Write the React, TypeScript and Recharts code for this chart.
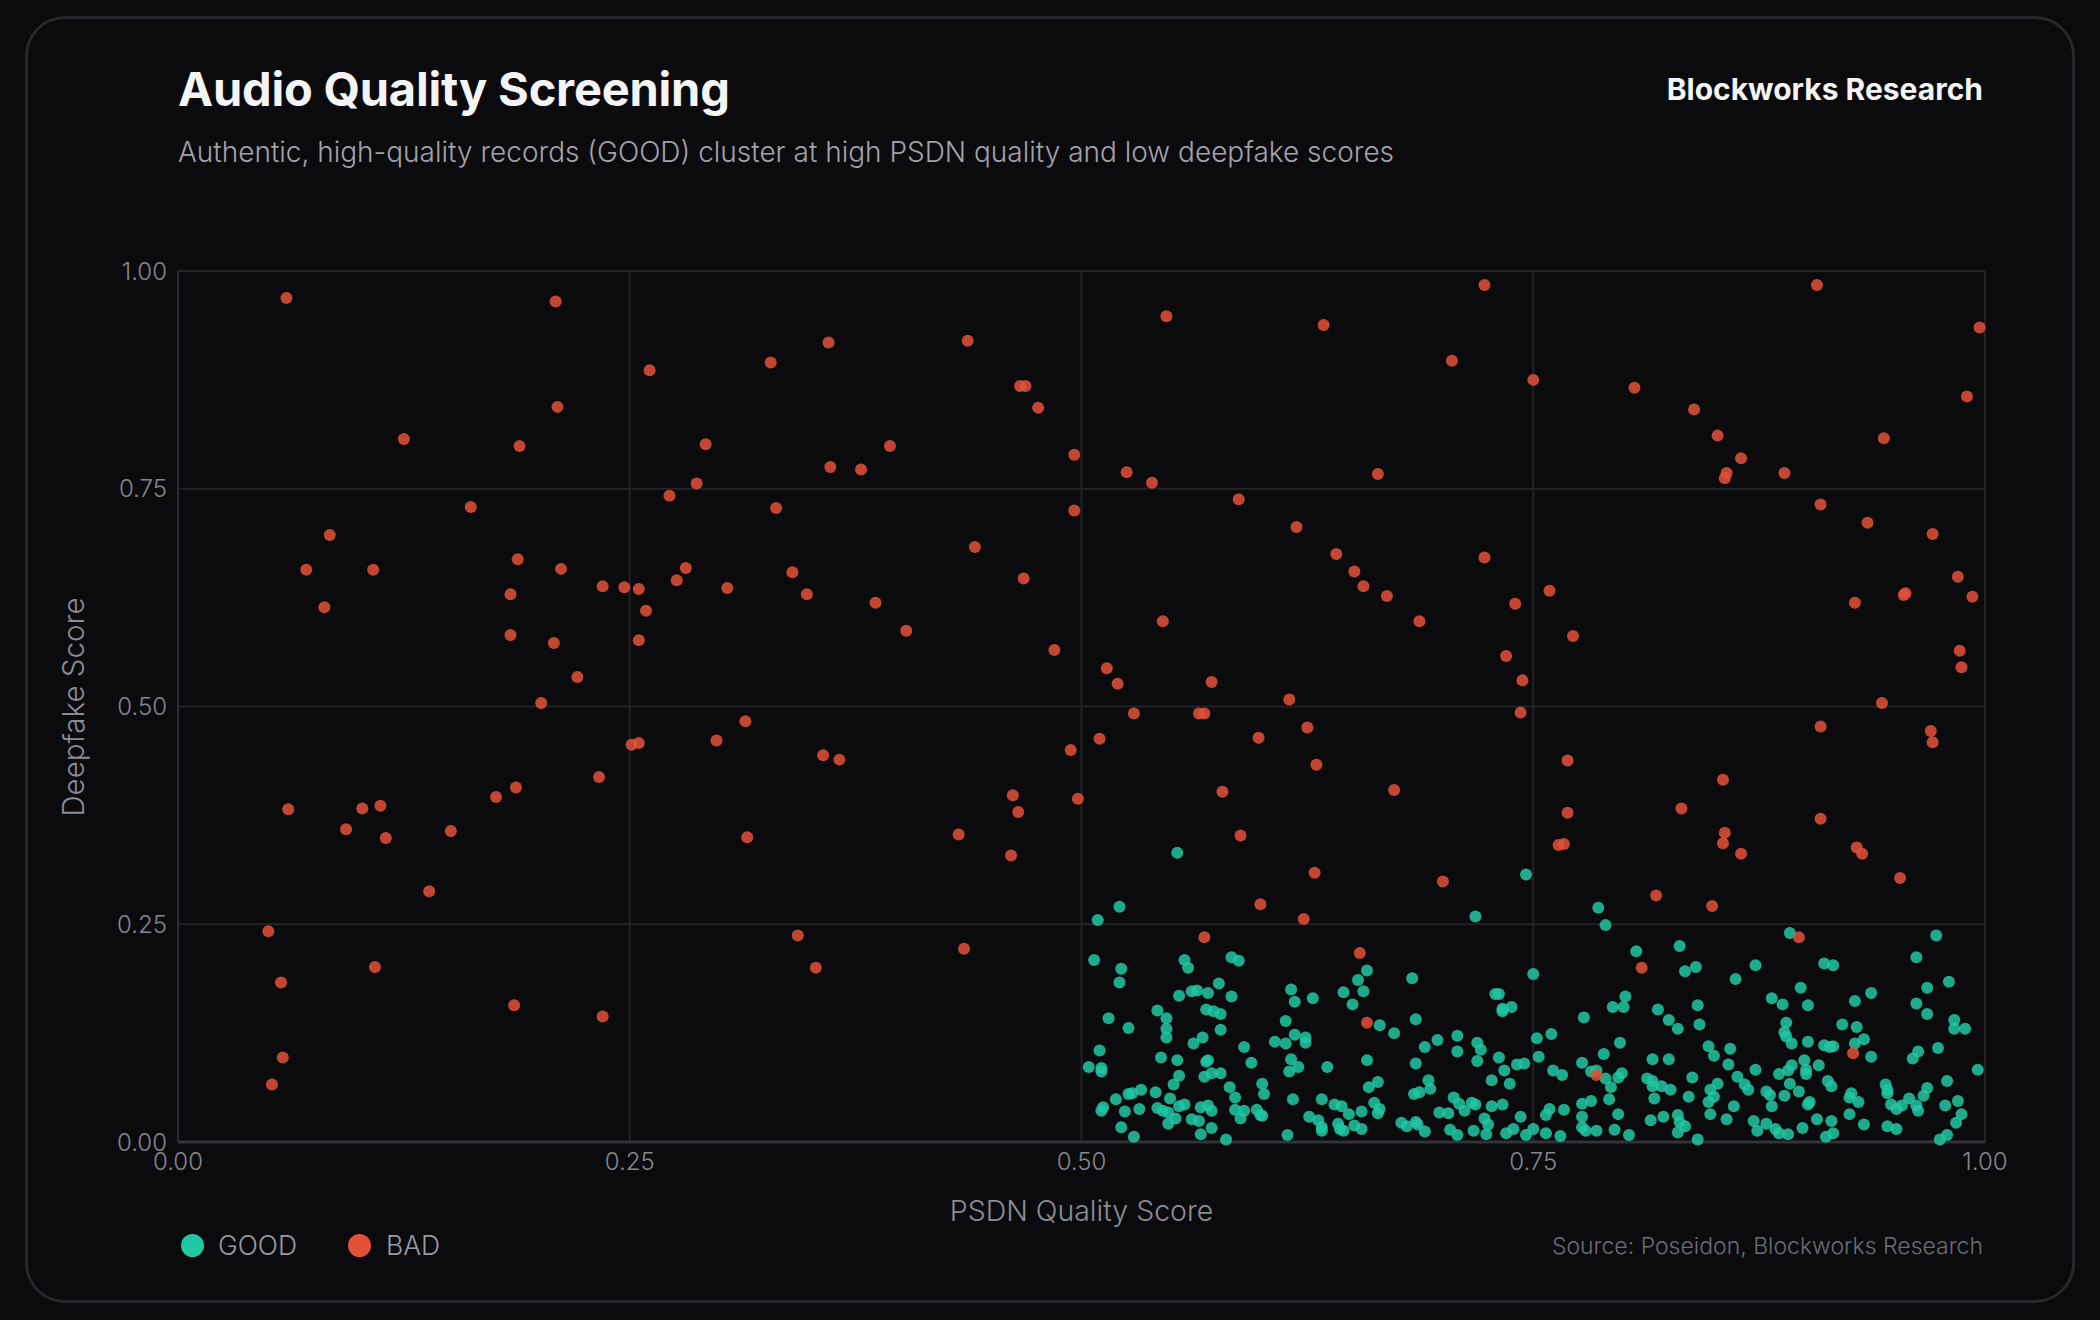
import { CartesianGrid, Scatter, ScatterChart, XAxis, YAxis } from "recharts";

// [PSDN quality score, deepfake score]
const goodRecords: [number, number][] = [
  [0.553,0.332],[0.521,0.270],[0.509,0.255],[0.746,0.307],[0.718,0.259],[0.507,0.209],[0.522,0.199],[0.521,0.183],[0.557,0.209],[0.559,0.200],
  [0.583,0.212],[0.587,0.208],[0.683,0.188],[0.576,0.182],[0.561,0.173],[0.564,0.174],[0.570,0.171],[0.554,0.168],[0.583,0.167],[0.616,0.175],
  [0.618,0.161],[0.628,0.165],[0.645,0.172],[0.653,0.186],[0.658,0.197],[0.656,0.173],[0.650,0.158],[0.729,0.170],[0.731,0.170],[0.733,0.153],
  [0.733,0.150],[0.738,0.155],[0.542,0.151],[0.547,0.142],[0.547,0.130],[0.547,0.120],[0.569,0.152],[0.573,0.150],[0.577,0.147],[0.577,0.129],
  [0.567,0.120],[0.562,0.113],[0.515,0.142],[0.526,0.131],[0.613,0.139],[0.618,0.123],[0.624,0.120],[0.624,0.114],[0.613,0.113],[0.607,0.115],
  [0.665,0.134],[0.673,0.125],[0.685,0.141],[0.697,0.117],[0.690,0.109],[0.708,0.122],[0.708,0.104],[0.719,0.114],[0.721,0.106],[0.719,0.093],
  [0.731,0.097],[0.734,0.082],[0.741,0.089],[0.745,0.090],[0.727,0.071],[0.737,0.067],[0.510,0.105],[0.504,0.086],[0.511,0.085],[0.511,0.081],
  [0.544,0.097],[0.553,0.094],[0.570,0.094],[0.569,0.092],[0.590,0.109],[0.594,0.091],[0.616,0.095],[0.620,0.086],[0.615,0.081],[0.636,0.086],
  [0.658,0.094],[0.685,0.090],[0.577,0.079],[0.572,0.079],[0.568,0.075],[0.554,0.076],[0.551,0.066],[0.582,0.063],[0.585,0.051],[0.600,0.067],
  [0.601,0.055],[0.659,0.063],[0.664,0.069],[0.692,0.071],[0.693,0.061],[0.684,0.055],[0.687,0.057],[0.706,0.051],[0.709,0.044],[0.712,0.036],
  [0.716,0.045],[0.718,0.043],[0.727,0.041],[0.733,0.043],[0.743,0.029],[0.723,0.027],[0.725,0.020],[0.724,0.009],[0.717,0.013],[0.704,0.014],
  [0.708,0.008],[0.735,0.010],[0.739,0.015],[0.746,0.008],[0.519,0.049],[0.526,0.055],[0.528,0.056],[0.533,0.060],[0.541,0.057],[0.549,0.050],
  [0.554,0.041],[0.557,0.043],[0.512,0.040],[0.511,0.036],[0.524,0.035],[0.532,0.038],[0.542,0.039],[0.545,0.036],[0.548,0.034],[0.552,0.027],
  [0.548,0.021],[0.522,0.017],[0.529,0.006],[0.561,0.026],[0.565,0.024],[0.566,0.040],[0.570,0.042],[0.572,0.036],[0.566,0.009],[0.572,0.016],
  [0.580,0.003],[0.585,0.037],[0.590,0.036],[0.588,0.027],[0.597,0.037],[0.599,0.031],[0.600,0.030],[0.617,0.049],[0.614,0.008],[0.633,0.049],
  [0.626,0.029],[0.631,0.025],[0.633,0.017],[0.633,0.013],[0.640,0.043],[0.644,0.041],[0.648,0.032],[0.655,0.035],[0.662,0.045],[0.665,0.038],
  [0.664,0.033],[0.642,0.021],[0.643,0.015],[0.645,0.013],[0.651,0.019],[0.655,0.015],[0.677,0.022],[0.680,0.018],[0.685,0.023],[0.686,0.020],
  [0.690,0.012],[0.698,0.034],[0.703,0.033],
  [0.786,0.269],[0.790,0.249],[0.892,0.240],[0.973,0.237],[0.962,0.212],[0.807,0.219],[0.831,0.225],[0.750,0.193],[0.834,0.196],[0.840,0.201],
  [0.862,0.187],[0.873,0.203],[0.911,0.205],[0.916,0.203],[0.898,0.177],[0.882,0.165],[0.888,0.158],[0.902,0.157],[0.968,0.177],[0.980,0.184],
  [0.937,0.171],[0.928,0.162],[0.962,0.159],[0.968,0.147],[0.983,0.140],[0.983,0.130],[0.989,0.130],[0.801,0.167],[0.794,0.155],[0.800,0.155],
  [0.819,0.152],[0.825,0.140],[0.830,0.130],[0.841,0.157],[0.842,0.135],[0.778,0.143],[0.760,0.124],[0.752,0.119],[0.753,0.098],[0.798,0.114],
  [0.789,0.101],[0.777,0.091],[0.782,0.081],[0.785,0.082],[0.761,0.082],[0.766,0.077],[0.790,0.073],[0.793,0.063],[0.797,0.074],[0.799,0.079],
  [0.816,0.095],[0.825,0.095],[0.847,0.110],[0.850,0.099],[0.859,0.107],[0.858,0.089],[0.863,0.075],[0.867,0.066],[0.869,0.060],[0.873,0.083],
  [0.890,0.137],[0.889,0.126],[0.890,0.121],[0.893,0.113],[0.902,0.115],[0.911,0.111],[0.914,0.109],[0.916,0.110],[0.921,0.135],[0.929,0.132],
  [0.933,0.118],[0.928,0.113],[0.937,0.098],[0.960,0.096],[0.963,0.104],[0.974,0.108],[0.996,0.083],[0.979,0.070],[0.900,0.094],[0.908,0.088],
  [0.901,0.083],[0.901,0.078],[0.893,0.088],[0.891,0.082],[0.886,0.078],[0.892,0.067],[0.897,0.058],[0.889,0.053],[0.879,0.058],[0.881,0.054],
  [0.882,0.041],[0.913,0.070],[0.915,0.064],[0.925,0.051],[0.926,0.056],[0.930,0.046],[0.945,0.066],[0.946,0.060],[0.946,0.056],[0.948,0.043],
  [0.951,0.038],[0.954,0.042],[0.958,0.050],[0.962,0.042],[0.963,0.036],[0.966,0.053],[0.968,0.062],[0.978,0.042],[0.985,0.047],[0.987,0.032],
  [0.984,0.022],[0.979,0.008],[0.975,0.003],[0.813,0.073],[0.816,0.070],[0.816,0.064],[0.821,0.064],[0.826,0.060],[0.817,0.050],[0.836,0.052],
  [0.838,0.074],[0.848,0.060],[0.852,0.067],[0.850,0.052],[0.847,0.046],[0.861,0.041],[0.848,0.032],[0.857,0.026],[0.872,0.024],[0.879,0.021],
  [0.874,0.013],[0.884,0.015],[0.886,0.010],[0.891,0.009],[0.899,0.016],[0.903,0.046],[0.902,0.043],[0.907,0.026],[0.915,0.024],[0.916,0.010],
  [0.912,0.006],[0.925,0.032],[0.933,0.020],[0.946,0.018],[0.951,0.015],[0.777,0.044],[0.782,0.047],[0.792,0.049],[0.797,0.032],[0.759,0.038],
  [0.757,0.031],[0.767,0.037],[0.777,0.029],[0.777,0.017],[0.779,0.013],[0.785,0.013],[0.795,0.014],[0.803,0.008],[0.750,0.015],[0.757,0.010],
  [0.765,0.007],[0.815,0.025],[0.822,0.029],[0.830,0.031],[0.831,0.023],[0.834,0.018],[0.830,0.011],[0.841,0.003],
];

const badRecords: [number, number][] = [
  [0.060,0.969],[0.209,0.965],[0.050,0.242],[0.052,0.066],[0.057,0.183],[0.058,0.097],[0.061,0.382],[0.071,0.657],[0.081,0.614],[0.084,0.697],
  [0.093,0.359],[0.102,0.383],[0.108,0.657],[0.109,0.201],[0.112,0.386],[0.115,0.349],[0.125,0.807],[0.139,0.288],[0.151,0.357],[0.162,0.729],
  [0.176,0.396],[0.184,0.629],[0.184,0.582],[0.188,0.669],[0.189,0.799],[0.187,0.407],[0.186,0.157],[0.201,0.504],[0.208,0.573],[0.210,0.844],
  [0.212,0.658],[0.221,0.534],[0.233,0.419],[0.235,0.638],[0.235,0.144],[0.247,0.637],[0.251,0.456],[0.255,0.635],[0.255,0.458],[0.255,0.576],
  [0.259,0.610],[0.261,0.886],[0.272,0.742],[0.276,0.645],[0.281,0.659],[0.287,0.756],[0.292,0.801],[0.298,0.461],[0.304,0.636],[0.314,0.483],
  [0.315,0.350],[0.328,0.895],[0.331,0.728],[0.340,0.654],[0.343,0.237],[0.348,0.629],[0.353,0.200],[0.357,0.444],[0.360,0.918],[0.361,0.775],
  [0.366,0.439],[0.378,0.772],[0.386,0.619],[0.394,0.799],[0.403,0.587],[0.432,0.353],[0.435,0.222],[0.437,0.920],[0.441,0.683],[0.461,0.329],
  [0.462,0.398],[0.465,0.379],[0.466,0.868],[0.469,0.868],[0.468,0.647],[0.476,0.843],[0.485,0.565],[0.494,0.450],[0.496,0.789],[0.496,0.725],
  [0.498,0.394],[0.510,0.463],[0.514,0.544],[0.520,0.526],[0.525,0.769],[0.529,0.492],[0.539,0.757],[0.545,0.598],[0.547,0.948],[0.565,0.492],
  [0.568,0.492],[0.568,0.235],[0.572,0.528],[0.578,0.402],[0.587,0.738],[0.588,0.352],[0.598,0.464],[0.599,0.273],[0.615,0.508],[0.619,0.706],
  [0.623,0.256],[0.625,0.476],[0.629,0.309],[0.630,0.433],[0.634,0.938],[0.641,0.675],[0.651,0.655],[0.654,0.217],[0.656,0.638],[0.658,0.137],
  [0.664,0.767],[0.669,0.627],[0.673,0.404],[0.687,0.598],[0.700,0.299],[0.705,0.897],[0.723,0.984],[0.723,0.671],[0.735,0.558],[0.740,0.618],
  [0.744,0.530],[0.743,0.493],[0.750,0.875],[0.759,0.633],[0.764,0.341],[0.767,0.342],[0.769,0.438],[0.769,0.378],[0.772,0.581],[0.785,0.077],
  [0.806,0.866],[0.810,0.200],[0.818,0.283],[0.832,0.383],[0.839,0.841],[0.849,0.271],[0.852,0.811],[0.855,0.416],[0.856,0.355],[0.855,0.343],
  [0.856,0.762],[0.857,0.768],[0.865,0.785],[0.865,0.331],[0.889,0.768],[0.897,0.235],[0.907,0.984],[0.909,0.732],[0.909,0.477],[0.909,0.371],
  [0.927,0.102],[0.928,0.619],[0.929,0.338],[0.932,0.331],[0.935,0.711],[0.943,0.504],[0.944,0.808],[0.953,0.303],[0.955,0.628],[0.956,0.630],
  [0.970,0.472],[0.971,0.459],[0.971,0.698],[0.985,0.649],[0.986,0.564],[0.987,0.545],[0.990,0.856],[0.993,0.626],[0.997,0.935],
];

const axisTicks = [0, 0.25, 0.5, 0.75, 1];

const GOOD = "#21c6a2";
const BAD = "#e2503a";
const FONT = "Inter, 'Noto Sans', sans-serif";

const toPoints = (rows: [number, number][]) => rows.map(([q, d]) => ({ q, d }));

const dot = (color: string) => (props: any) =>
  <circle cx={props.cx} cy={props.cy} r={6} fill={color} fillOpacity={0.86} />;

export default function App() {
  const tick = { fill: "#86868f", fontSize: 24, fontFamily: FONT, fontWeight: 300 };
  return (
    <div style={{ position: "absolute", left: 0, top: 0, width: 2100, height: 1320, background: "#0b0b0d", fontFamily: FONT, overflow: "hidden" }}>
      <div style={{ position: "absolute", left: 25, top: 16, width: 2050, height: 1287, border: "3px solid #27272c", borderRadius: 40, boxSizing: "border-box" }} />
      <div style={{ position: "absolute", left: 178, top: 65, fontSize: 47, fontWeight: 700, lineHeight: 1, color: "#f4f4f5", letterSpacing: -0.2 }}>
        Audio Quality Screening
      </div>
      <div style={{ position: "absolute", left: 178, top: 138, fontSize: 28, lineHeight: 1, color: "#a2a2aa", fontWeight: 300 }}>
        Authentic, high-quality records (GOOD) cluster at high PSDN quality and low deepfake scores
      </div>
      <div style={{ position: "absolute", right: 117, top: 74, fontSize: 30, fontWeight: 700, lineHeight: 1, color: "#f4f4f5" }}>
        Blockworks Research
      </div>

      <div style={{ position: "absolute", left: 0, top: 0 }}>
        <ScatterChart width={2100} height={1320} margin={{ top: 271, right: 115, bottom: 118, left: 78 }}>
          <CartesianGrid stroke="#222227" strokeWidth={2} />
          <XAxis
            type="number"
            dataKey="q"
            domain={[0, 1]}
            ticks={axisTicks}
            tickFormatter={(v) => Number(v).toFixed(2)}
            tick={tick}
            tickLine={false}
            tickSize={0}
            tickMargin={11}
            height={60}
            axisLine={{ stroke: "#333339", strokeWidth: 3 }}
            interval={0}
          />
          <YAxis
            type="number"
            dataKey="d"
            domain={[0, 1]}
            ticks={axisTicks}
            tickFormatter={(v) => Number(v).toFixed(2)}
            tick={tick}
            tickLine={false}
            tickSize={0}
            tickMargin={11}
            width={100}
            axisLine={{ stroke: "#2c2c32", strokeWidth: 2 }}
            interval={0}
          />
          <Scatter name="GOOD" data={toPoints(goodRecords)} shape={dot(GOOD)} isAnimationActive={false} />
          <Scatter name="BAD" data={toPoints(badRecords)} shape={dot(BAD)} isAnimationActive={false} />
        </ScatterChart>
      </div>

      <div style={{ position: "absolute", left: 178, width: 1807, top: 1197, textAlign: "center", fontSize: 28.5, lineHeight: 1, color: "#8c8c95", fontWeight: 300 }}>
        PSDN Quality Score
      </div>
      <div style={{ position: "absolute", left: 74, top: 707, transform: "translate(-50%, -50%) rotate(-90deg)", whiteSpace: "nowrap", fontSize: 29.5, lineHeight: 1, color: "#8c8c95", fontWeight: 300 }}>
        Deepfake Score
      </div>

      <div style={{ position: "absolute", left: 181, top: 1231, display: "flex", alignItems: "center", height: 28, fontSize: 26.5, color: "#9a9aa2", fontWeight: 300 }}>
        <span style={{ width: 23, height: 23, borderRadius: "50%", background: GOOD, display: "inline-block" }} />
        <span style={{ marginLeft: 14 }}>GOOD</span>
        <span style={{ width: 23, height: 23, borderRadius: "50%", background: BAD, display: "inline-block", marginLeft: 51 }} />
        <span style={{ marginLeft: 15 }}>BAD</span>
      </div>
      <div style={{ position: "absolute", right: 117, top: 1235, fontSize: 23, lineHeight: 1, color: "#6d6d76", fontWeight: 300 }}>
        Source: Poseidon, Blockworks Research
      </div>
    </div>
  );
}
